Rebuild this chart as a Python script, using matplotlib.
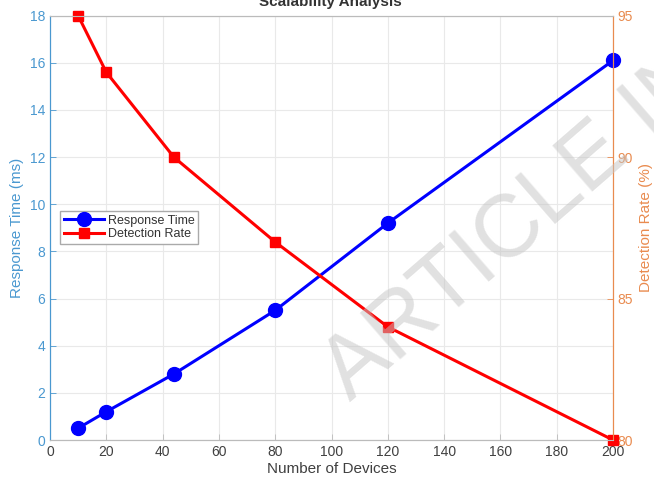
import numpy as np
import matplotlib
matplotlib.use("Agg")
import matplotlib.pyplot as plt

plt.rcParams['font.family'] = ['Liberation Sans', 'DejaVu Sans']

# data
devices = [10, 20, 44, 80, 120, 200]
response_time = [0.5, 1.2, 2.8, 5.5, 9.2, 16.1]
detection_rate = [95, 93, 90, 87, 84, 80]

x_ticks = np.arange(0, 201, 20)
left_ticks = np.arange(0, 19, 2)
right_ticks = [80, 85, 90, 95]

c_left = '#4a98d0'
c_right = '#e98b4f'
c_grey = '#404040'

fig = plt.figure(figsize=(6.54, 4.79), dpi=100)
ax = fig.add_axes([50/654, 39/479, 563/654, 424.3/479])
ax2 = ax.twinx()

l1, = ax.plot(devices, response_time, '-o', color='#0000ff', lw=2.2,
              ms=10, mfc='#0000ff', mec='#0000ff', label='Response Time', clip_on=False)
l2, = ax2.plot(devices, detection_rate, '-s', color='#ff0000', lw=2.2,
               ms=7.5, mfc='#ff0000', mec='#ff0000', label='Detection Rate', clip_on=False)

ax.set_xlim(0, 200)
ax.set_ylim(0, 18)
ax2.set_ylim(80, 95)
ax.set_xticks(x_ticks)
ax.set_yticks(left_ticks)
ax2.set_yticks(right_ticks)

ax.grid(True, color='#e9e9e9', lw=0.8)
ax.set_axisbelow(True)

ax.set_xlabel('Number of Devices', fontsize=11, color=c_grey, labelpad=2)
ax.set_ylabel('Response Time (ms)', fontsize=11, color=c_left, labelpad=4)
ax2.set_ylabel('Detection Rate (%)', fontsize=11, color=c_right, labelpad=4)

ax.tick_params(axis='x', direction='in', colors=c_grey, labelsize=10, length=4, width=0.6)
ax.tick_params(axis='y', direction='in', colors=c_left, labelsize=10, length=4, width=0.6)
ax2.tick_params(axis='y', direction='in', colors=c_right, labelsize=10, length=4, width=0.6)
ax.tick_params(axis='x', colors='#bbbbbb', labelcolor=c_grey)

for a in (ax, ax2):
    a.spines['top'].set_color('#bbbbbb')
    a.spines['bottom'].set_color('#bbbbbb')
    a.spines['left'].set_color(c_left)
    a.spines['right'].set_color(c_right)
    for s in a.spines.values():
        s.set_linewidth(0.8)

leg = ax2.legend([l1, l2], ['Response Time', 'Detection Rate'], loc='upper left',
                 bbox_to_anchor=(0.018, 0.54), borderaxespad=0, fontsize=9,
                 handlelength=3.2, fancybox=False, edgecolor='#aaaaaa',
                 framealpha=1, borderpad=0.3, labelspacing=0.1, handletextpad=0.3)
for t in leg.get_texts():
    t.set_color('#333333')

# title cut off at the top edge of the image
fig.text(0.505, 1 - 6/479, 'Scalability Analysis', fontsize=11, fontweight='bold',
         color='#333333', ha='center', va='baseline')

# watermark
fig.text(350/654, 1 - 402/479, 'ARTICLE IN PRESS', fontsize=64, color='#c4c4c4',
         alpha=0.5, rotation=41, rotation_mode='anchor', ha='left', va='baseline',
         zorder=10)

fig.savefig('out.png', dpi=100)
